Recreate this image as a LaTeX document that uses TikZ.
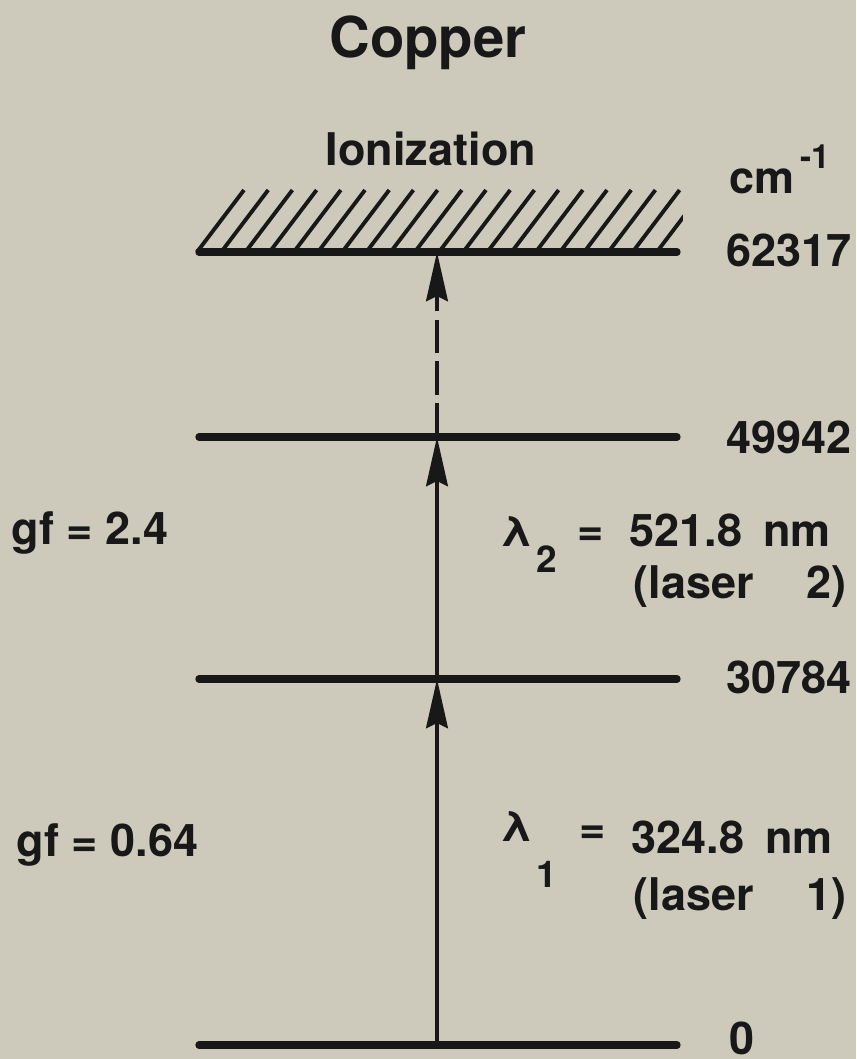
\documentclass[tikz,border=0pt]{standalone}
\usepackage{fontspec}
\setmainfont{TeX Gyre Heros}
\usepackage{xcolor}
\usetikzlibrary{arrows.meta}
\definecolor{paper}{RGB}{205,201,187}
\definecolor{ink}{RGB}{24,24,24}

\begin{document}
\begin{tikzpicture}[x=0.01cm, y=-0.01cm, >={Stealth[length=14pt, width=6.2pt, inset=1.5pt]}, main/.style = {text=ink, inner sep=0pt, font=\fontsize{12.8}{15}\selectfont\bfseries}, small/.style = {main, font=\fontsize{10.5}{12}\selectfont\bfseries}, level/.style = {draw=ink, line width=2.1pt, line cap=round}, every edge/.append style = {draw=ink, line width=1pt}]

\fill[paper] (0,0) rectangle (856,1059);

% energy levels
\coordinate (l0) at (199,1045); \coordinate (r0) at (677,1045);
\coordinate (l1) at (199,679); \coordinate (r1) at (677,679);
\coordinate (l2) at (199,437); \coordinate (r2) at (677,437);
\coordinate (l3) at (199,252); \coordinate (r3) at (677,252);
\draw[level] (l0) -- (r0) (l1) -- (r1) (l2) -- (r2) (l3) -- (r3);

% hatching above the ionization limit
\begin{scope}
\clip (190,185) rectangle (683,252);
\foreach \i in {0,...,19}
  \draw[draw=ink, line width=1.1pt] (197+24.2*\i,252) -- ++(47,-62);
\end{scope}

% transitions
\coordinate (g) at (437,1045);
\coordinate (p1) at (437,679);
\coordinate (p2) at (437,437);
\coordinate (p3) at (437,252);
\path
 (g) edge[->] (p1)
 (p1) edge[->] (p2)
 (p2) edge[->, dash pattern=on 9.6pt off 2.3pt] (p3);

\node[main, font=\fontsize{16}{19}\selectfont\bfseries, anchor=base] (cu) at (428,57) {Copper};
\node[main, anchor=base] (ion) at (431,165) {Ionization};
\node[main, anchor=base west] (unit) at (729,193) {cm\hspace{1.5pt}\raisebox{7pt}{\fontsize{9.5}{11}\selectfont -1}};

\node[main, anchor=west] (e3) at (726,250) {62317};
\node[main, anchor=west] (e2) at (726,437) {49942};
\node[main, anchor=west] (e1) at (726,677) {30784};
\node[main, anchor=base west] (e0) at (729,1054) {0};

\node[main, anchor=base west] (gf2) at (11,544) {gf = 2.4};
\node[main, anchor=base west] (gf1) at (16,856) {gf = 0.64};

% laser 2
\node[main, font=\fontsize{12}{14}\selectfont\bfseries, anchor=base west] (lam2) at (500,546) {λ};
\node[small, anchor=base west] (s2) at (536,572) {2};
\node[main] (eq2) at (591,537) {=};
\node[main, anchor=base west] (w2) at (629,546) {521.8\hspace{6pt}nm};
\node[main, anchor=base west] (las2) at (633,598) {(laser\hspace{15pt}2)};

% laser 1
\node[main, font=\fontsize{12}{14}\selectfont\bfseries, anchor=base west] (lam1) at (500,841) {λ};
\node[small, anchor=base west] (s1) at (536,887) {1};
\node[main] (eq1) at (593,835) {=};
\node[main, anchor=base west] (w1) at (631,853) {324.8\hspace{6pt}nm};
\node[main, anchor=base west] (las1) at (633,910) {(laser\hspace{15pt}1)};
\end{tikzpicture}
\end{document}
